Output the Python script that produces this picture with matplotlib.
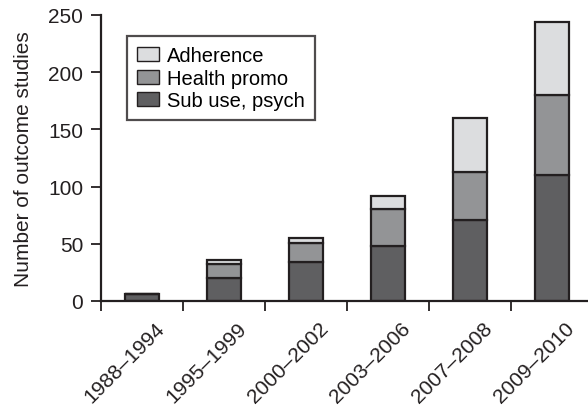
import matplotlib
matplotlib.use("Agg")
import matplotlib.pyplot as plt
import numpy as np

categories = ["1988–1994", "1995–1999", "2000–2002", "2003–2006", "2007–2008", "2009–2010"]
sub_use = [6, 20, 34, 48, 71, 110]
health_promo = [0, 12, 17, 32, 42, 70]
adherence = [0, 4, 4, 12, 47, 64]

plt.rcParams['font.family'] = ['Liberation Sans', 'DejaVu Sans']

fig = plt.figure(figsize=(5.88, 4.10), dpi=100)
ax = fig.add_axes([101/588, 1-302/410, 1-101/588, (302-16)/410])

x = np.arange(len(categories)) + 0.5
w = 0.41
ec = '#231f20'
tc = '#231f20'
lw = 1.6
fs = 15
c_sub, c_hp, c_ad = '#5f5f61', '#939496', '#dcdddf'
sub = np.array(sub_use); hp = np.array(health_promo); ad = np.array(adherence)
b1 = ax.bar(x, sub, w, color=c_sub, edgecolor=ec, linewidth=lw, label='Sub use, psych')
b2 = ax.bar(x, hp, w, bottom=sub, color=c_hp, edgecolor=ec, linewidth=lw, label='Health promo')
b3 = ax.bar(x, ad, w, bottom=sub+hp, color=c_ad, edgecolor=ec, linewidth=lw, label='Adherence')

ax.set_xlim(0, 5.94)
ax.set_ylim(0, 250)
ax.set_yticks([0, 50, 100, 150, 200, 250])
ax.set_xticks(np.arange(0, 6))
ax.set_xticklabels([])
for xi, lab in zip(x, categories):
    ax.annotate(lab, xy=(xi, 0), xycoords=('data', 'axes fraction'),
                xytext=(13, -17), textcoords='offset pixels',
                rotation=45, ha='right', va='top', rotation_mode='anchor',
                fontsize=fs, color=tc)

for s in ['top', 'right']:
    ax.spines[s].set_visible(False)
for s in ['left', 'bottom']:
    ax.spines[s].set_linewidth(1.6)
    ax.spines[s].set_color(ec)
ax.tick_params(axis='both', direction='out', length=7.2, width=1.3, color=ec,
               labelsize=fs, labelcolor=tc, pad=5.5)
ax.set_ylabel('Number of outcome studies', fontsize=fs, color=tc, labelpad=11)

leg = ax.legend(handles=[b3, b2, b1], loc='upper left', bbox_to_anchor=(26/487, 1-21/286),
                fontsize=14.5, frameon=True, fancybox=False, edgecolor=ec,
                handlelength=1.1, handleheight=0.7, handletextpad=0.4,
                borderpad=0.5, labelspacing=0.18, borderaxespad=0)
leg.get_frame().set_linewidth(1.6)
for h in leg.legend_handles:
    h.set_linewidth(1.0)

fig.savefig('out.png', dpi=100)
